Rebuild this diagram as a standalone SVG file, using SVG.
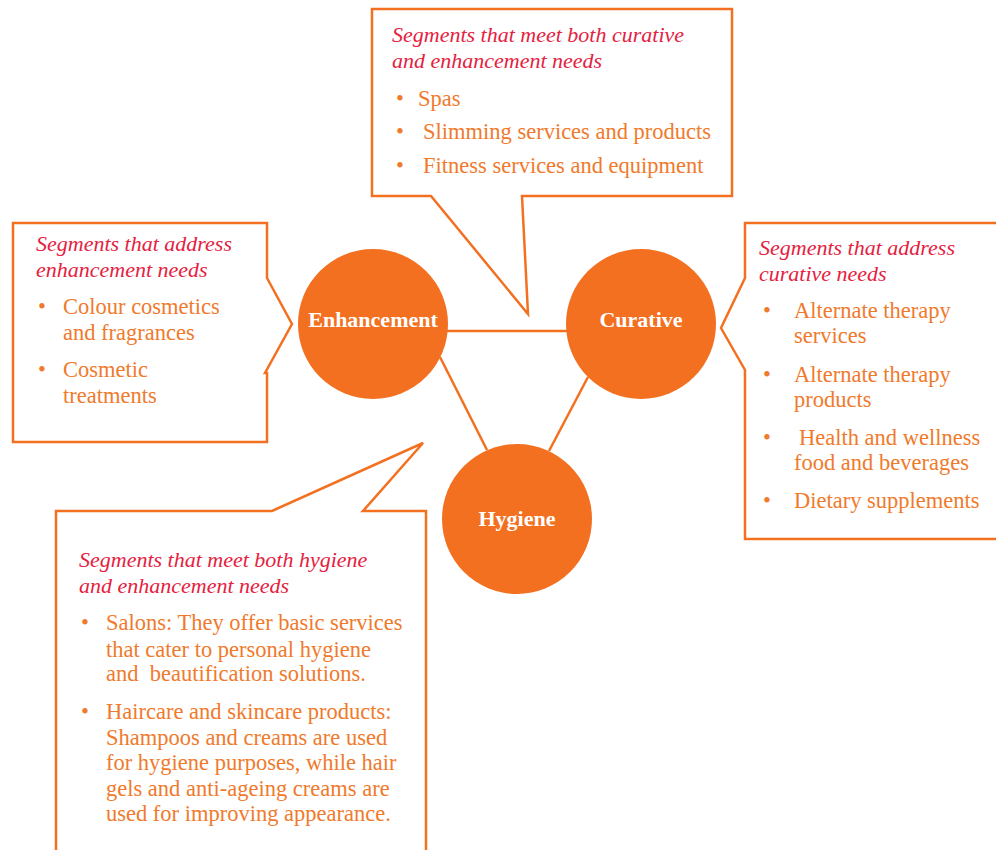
<svg xmlns="http://www.w3.org/2000/svg" width="996" height="850" viewBox="0 0 996 850">
<style>
.box{fill:#fff;stroke:#F37021;stroke-width:2.5;stroke-linejoin:miter}
.con{stroke:#F37021;stroke-width:2.5;fill:none}
.node{fill:#F37021}
.lbl{font-family:"Liberation Serif","DejaVu Serif",serif;font-weight:bold;font-size:22px;fill:#fff;text-anchor:middle}
.ttl{font-family:"Liberation Serif","DejaVu Serif",serif;font-style:italic;font-size:22px;fill:#E4223F}
.txt{font-family:"Liberation Serif","DejaVu Serif",serif;font-size:22.5px;fill:#F07A2C}
</style>
<rect width="996" height="850" fill="#fff"/>
<g id="connectors">
<line class="con" x1="447" y1="331" x2="567" y2="331"/>
<line class="con" x1="440" y1="357" x2="487" y2="450"/>
<line class="con" x1="588" y1="377" x2="549" y2="451"/>
</g>
<g id="callout-top">
<path class="box" d="M372,9 H732 V196 H522 L528,314 L431,196 H372 Z"/>
<text class="ttl" x="392" y="42">Segments that meet both curative</text>
<text class="ttl" x="392" y="68">and enhancement needs</text>
<text class="txt" x="396" y="106">•</text><text class="txt" x="418" y="106">Spas</text>
<text class="txt" x="396" y="139">•</text><text class="txt" x="423" y="139">Slimming services and products</text>
<text class="txt" x="396" y="173">•</text><text class="txt" x="423" y="173">Fitness services and equipment</text>
</g>
<g id="callout-left">
<path class="box" d="M13,223 H267 V278 L292,324 L265,373 L267,373 V442 H13 Z"/>
<text class="ttl" x="36" y="251">Segments that address</text>
<text class="ttl" x="36" y="277">enhancement needs</text>
<text class="txt" x="38" y="314">•</text><text class="txt" x="63" y="314">Colour cosmetics</text>
<text class="txt" x="63" y="340">and fragrances</text>
<text class="txt" x="38" y="377">•</text><text class="txt" x="63" y="377">Cosmetic</text>
<text class="txt" x="63" y="403">treatments</text>
</g>
<g id="callout-right">
<path class="box" d="M1000,223 H745 V278 L721,328 L745,370 V539 H1000"/>
<text class="ttl" x="759" y="255">Segments that address</text>
<text class="ttl" x="759" y="281">curative needs</text>
<text class="txt" x="763" y="318">•</text><text class="txt" x="794" y="318">Alternate therapy</text>
<text class="txt" x="794" y="343">services</text>
<text class="txt" x="763" y="382">•</text><text class="txt" x="794" y="382">Alternate therapy</text>
<text class="txt" x="794" y="407">products</text>
<text class="txt" x="763" y="445">•</text><text class="txt" x="799" y="445">Health and wellness</text>
<text class="txt" x="794" y="470">food and beverages</text>
<text class="txt" x="763" y="508">•</text><text class="txt" x="794" y="508">Dietary supplements</text>
</g>
<g id="callout-bottom">
<path class="box" d="M56,860 V511 H272 L423,443 L363,511 H426 V860"/>
<text class="ttl" x="79" y="567">Segments that meet both hygiene</text>
<text class="ttl" x="79" y="593">and enhancement needs</text>
<text class="txt" x="81" y="630">•</text><text class="txt" x="106" y="630">Salons: They offer basic services</text>
<text class="txt" x="106" y="657">that cater to personal hygiene</text>
<text class="txt" x="106" y="681" xml:space="preserve">and  beautification solutions.</text>
<text class="txt" x="81" y="719">•</text><text class="txt" x="106" y="719">Haircare and skincare products:</text>
<text class="txt" x="106" y="745">Shampoos and creams are used</text>
<text class="txt" x="106" y="770">for hygiene purposes, while hair</text>
<text class="txt" x="106" y="796">gels and anti-ageing creams are</text>
<text class="txt" x="106" y="821">used for improving appearance.</text>
</g>
<g id="node-enhancement">
<circle class="node" cx="373" cy="324" r="75"/>
<text class="lbl" x="373" y="327">Enhancement</text>
</g>
<g id="node-curative">
<circle class="node" cx="641" cy="324" r="75"/>
<text class="lbl" x="641" y="327">Curative</text>
</g>
<g id="node-hygiene">
<circle class="node" cx="517" cy="519" r="75"/>
<text class="lbl" x="517" y="526">Hygiene</text>
</g>
</svg>
